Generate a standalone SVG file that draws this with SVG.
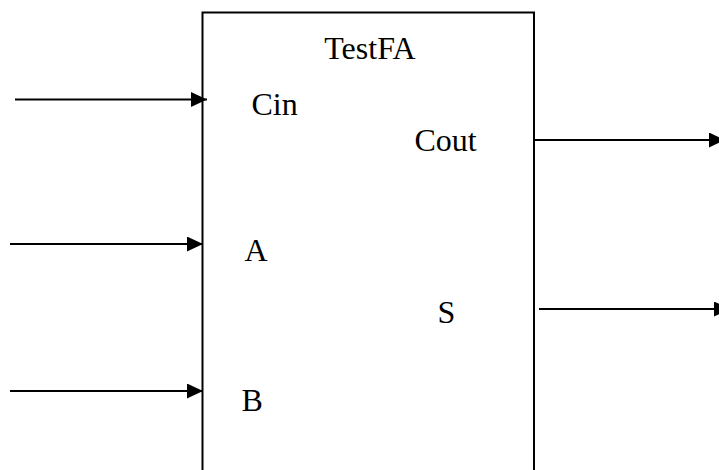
<svg xmlns="http://www.w3.org/2000/svg" width="719" height="470" viewBox="0 0 719 470">
  <style>
    .box { fill: #ffffff; stroke: #000000; stroke-width: 2; }
    .wire { fill: none; stroke: #000000; stroke-width: 2; }
    .lbl { font-family: "Liberation Serif", "Times New Roman", serif; font-size: 32px; fill: #000000; }
  </style>
  <defs>
    <marker id="head" viewBox="0 0 16 15" refX="16" refY="7.5" markerWidth="16" markerHeight="15" markerUnits="userSpaceOnUse" orient="auto">
      <path d="M0,0 L16,7.5 L0,15 Z" fill="#000000"/>
    </marker>
  </defs>
  <rect width="719" height="470" fill="#ffffff"/>

  <!-- full adder block -->
  <g id="testfa">
    <rect class="box" x="202.5" y="12.5" width="331.5" height="470"/>
    <text class="lbl" x="370" y="58.5" text-anchor="middle">TestFA</text>
    <text class="lbl" x="251.5" y="115">Cin</text>
    <text class="lbl" x="414.5" y="151">Cout</text>
    <text class="lbl" x="244.5" y="261">A</text>
    <text class="lbl" x="241.5" y="411">B</text>
    <text class="lbl" x="437.5" y="323">S</text>
  </g>

  <!-- input and output wires -->
  <g id="connectors">
    <line class="wire" x1="15" y1="99.5" x2="207" y2="99.5" marker-end="url(#head)"/>
    <line class="wire" x1="10" y1="244" x2="203" y2="244" marker-end="url(#head)"/>
    <line class="wire" x1="10" y1="391" x2="203" y2="391" marker-end="url(#head)"/>
    <line class="wire" x1="534" y1="140" x2="725" y2="140" marker-end="url(#head)"/>
    <line class="wire" x1="539" y1="309" x2="730" y2="309" marker-end="url(#head)"/>
  </g>
</svg>
